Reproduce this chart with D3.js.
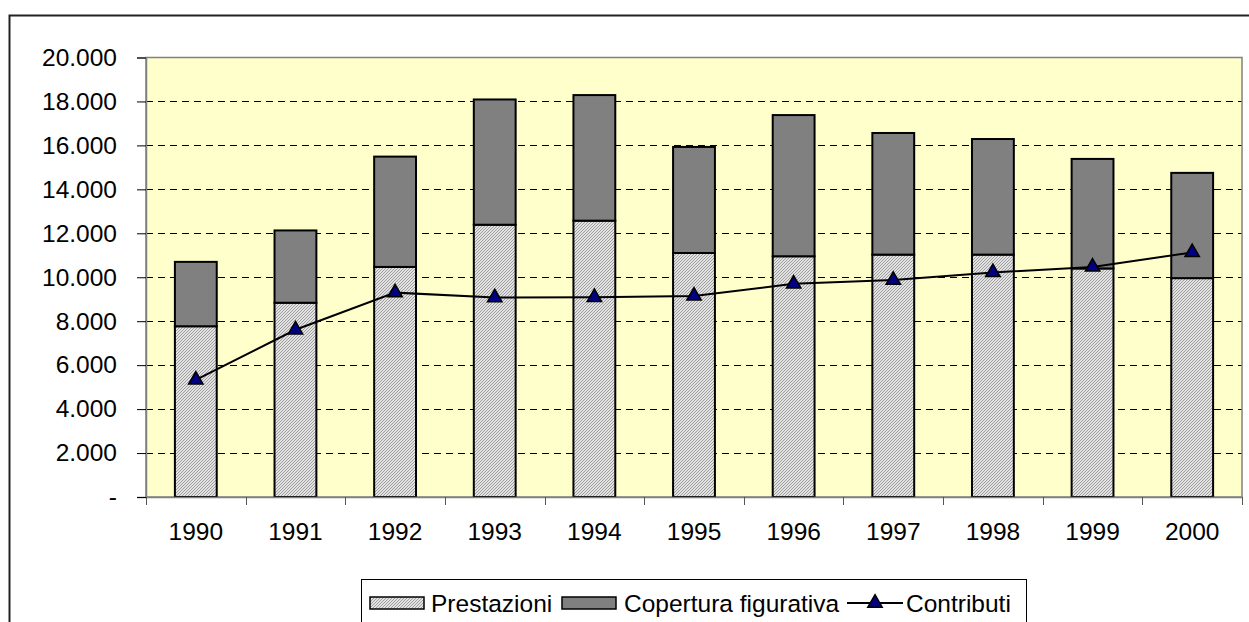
<!DOCTYPE html>
<html>
<head>
<meta charset="utf-8">
<script src="https://cdn.jsdelivr.net/npm/d3@7"></script>
<style>
  html, body { margin: 0; padding: 0; background: #fff; }
  svg { display: block; }
  text { font-family: "Liberation Sans", Arial, sans-serif; }
</style>
</head>
<body>
<svg id="chart" width="1249" height="622"></svg>
<script>
const years = ["1990","1991","1992","1993","1994","1995","1996","1997","1998","1999","2000"];
const prestazioni = [7770, 8840, 10470, 12390, 12575, 11105, 10955, 11030, 11030, 10400, 9960];
const totale      = [10700, 12130, 15490, 18090, 18290, 15930, 17380, 16565, 16290, 15385, 14750];
const copertura   = totale.map((t, i) => t - prestazioni[i]);
const contributi  = [5330, 7610, 9300, 9080, 9090, 9150, 9700, 9870, 10220, 10470, 11130];
const yTicks = [0, 2000, 4000, 6000, 8000, 10000, 12000, 14000, 16000, 18000, 20000];
const legendLabels = ["Prestazioni", "Copertura figurativa", "Contributi"];

const svg = d3.select("#chart");
const W = 1249, H = 622;
const plot = { left: 146, right: 1242, top: 57.5, bottom: 497 };

// pattern
const defs = svg.append("defs");
const pat = defs.append("pattern").attr("id", "hatch").attr("patternUnits", "userSpaceOnUse")
  .attr("width", 3).attr("height", 3);
pat.append("rect").attr("width", 3).attr("height", 3).attr("fill", "#e2e2e2");
pat.append("path").attr("d", "M-1,1 L1,-1 M0,3 L3,0 M2,4 L4,2").attr("stroke", "#969696").attr("stroke-width", 0.9);

// outer frame
svg.append("path").attr("d", `M9.5,${H + 5} L9.5,15.5 L${W + 5},15.5`)
  .attr("fill", "none").attr("stroke", "#222").attr("stroke-width", 2);

const x = d3.scaleBand().domain(years).range([plot.left, plot.right]).padding(0);
const y = d3.scaleLinear().domain([0, 20000]).range([plot.bottom, plot.top]);

// plot area background
svg.append("rect").attr("x", plot.left).attr("y", plot.top)
  .attr("width", plot.right - plot.left).attr("height", plot.bottom - plot.top)
  .attr("fill", "#FFFFCC");

// gridlines
svg.append("g").selectAll("line").data(yTicks.filter(v => v > 0 && v < 20000)).join("line")
  .attr("x1", plot.left).attr("x2", plot.right)
  .attr("y1", d => Math.round(y(d)) + 0.5).attr("y2", d => Math.round(y(d)) + 0.5)
  .attr("stroke", "#000").attr("stroke-width", 1).attr("stroke-dasharray", "7,5");

// plot border
svg.append("rect").attr("x", plot.left).attr("y", plot.top)
  .attr("width", plot.right - plot.left).attr("height", plot.bottom - plot.top)
  .attr("fill", "none").attr("stroke", "#808080").attr("stroke-width", 1.5);

// bars
const bw = x.bandwidth() * 0.42;
const bx = d => x(d) + (x.bandwidth() - bw) / 2;
const bars = svg.append("g");
bars.selectAll("rect.p").data(years).join("rect").attr("class", "p")
  .attr("x", d => bx(d)).attr("width", bw)
  .attr("y", (d, i) => y(prestazioni[i])).attr("height", (d, i) => y(0) - y(prestazioni[i]))
  .attr("fill", "url(#hatch)").attr("stroke", "#000").attr("stroke-width", 2);
bars.selectAll("rect.c").data(years).join("rect").attr("class", "c")
  .attr("x", d => bx(d)).attr("width", bw)
  .attr("y", (d, i) => y(totale[i])).attr("height", (d, i) => y(prestazioni[i]) - y(totale[i]))
  .attr("fill", "#808080").attr("stroke", "#000").attr("stroke-width", 2);

// axes
const yAxis = d3.axisLeft(y).tickValues(yTicks).tickSize(9).tickPadding(20)
  .tickFormat(d => d === 0 ? "-" : d3.format(",")(d).replace(/,/g, "."));
const gy = svg.append("g").attr("transform", `translate(${plot.left},0)`).call(yAxis);
gy.select(".domain").attr("stroke", "#808080").attr("stroke-width", 1.5);
gy.selectAll(".tick line").attr("stroke", "#000");
gy.selectAll(".tick text").attr("font-size", 24.5).attr("fill", "#000")
  .attr("font-family", "'Liberation Sans', Arial, sans-serif");

const xAxis = d3.axisBottom(x).tickSize(0).tickPadding(26);
const gx = svg.append("g").attr("transform", `translate(0,${plot.bottom})`).call(xAxis);
gx.select(".domain").attr("stroke", "#808080").attr("stroke-width", 1.5);
gx.selectAll(".tick text").attr("font-size", 24.5).attr("fill", "#000")
  .attr("font-family", "'Liberation Sans', Arial, sans-serif");
// category boundary ticks
const bounds = years.map(d => x(d)).concat([plot.right]);
svg.append("g").selectAll("line").data(bounds).join("line")
  .attr("x1", d => Math.round(d) + 0.5).attr("x2", d => Math.round(d) + 0.5)
  .attr("y1", plot.bottom).attr("y2", plot.bottom + 8)
  .attr("stroke", "#555").attr("stroke-width", 1);

// line
const cx = d => x(d) + x.bandwidth() / 2;
const line = d3.line().x((d, i) => cx(years[i])).y(d => y(d));
svg.append("path").datum(contributi).attr("d", line)
  .attr("fill", "none").attr("stroke", "#000").attr("stroke-width", 2);
const tri = d3.symbol().type(d3.symbolTriangle).size(90);
svg.append("g").selectAll("path").data(contributi).join("path")
  .attr("transform", (d, i) => `translate(${cx(years[i])},${y(d)})`)
  .attr("d", tri).attr("fill", "#000080").attr("stroke", "#000").attr("stroke-width", 1.5);

// legend
const lg = svg.append("g");
lg.append("rect").attr("x", 361.5).attr("y", 579.5).attr("width", 665).attr("height", 60)
  .attr("fill", "#fff").attr("stroke", "#000").attr("stroke-width", 1);
const ly = 603;
lg.append("rect").attr("x", 370).attr("y", ly - 6).attr("width", 54).attr("height", 12)
  .attr("fill", "url(#hatch)").attr("stroke", "#000").attr("stroke-width", 1.5);
lg.append("text").attr("x", 431).attr("y", ly).attr("dy", "0.35em").attr("font-size", 24.5).text(legendLabels[0]);
lg.append("rect").attr("x", 562).attr("y", ly - 6).attr("width", 54).attr("height", 12)
  .attr("fill", "#808080").attr("stroke", "#000").attr("stroke-width", 1.5);
lg.append("text").attr("x", 624).attr("y", ly).attr("dy", "0.35em").attr("font-size", 24.5).text(legendLabels[1]);
lg.append("line").attr("x1", 847).attr("x2", 903).attr("y1", ly).attr("y2", ly)
  .attr("stroke", "#000").attr("stroke-width", 2);
lg.append("path").attr("transform", `translate(875,${ly})`).attr("d", tri)
  .attr("fill", "#000080").attr("stroke", "#000").attr("stroke-width", 1.5);
lg.append("text").attr("x", 906).attr("y", ly).attr("dy", "0.35em").attr("font-size", 24.5).text(legendLabels[2]);
</script>
</body>
</html>
